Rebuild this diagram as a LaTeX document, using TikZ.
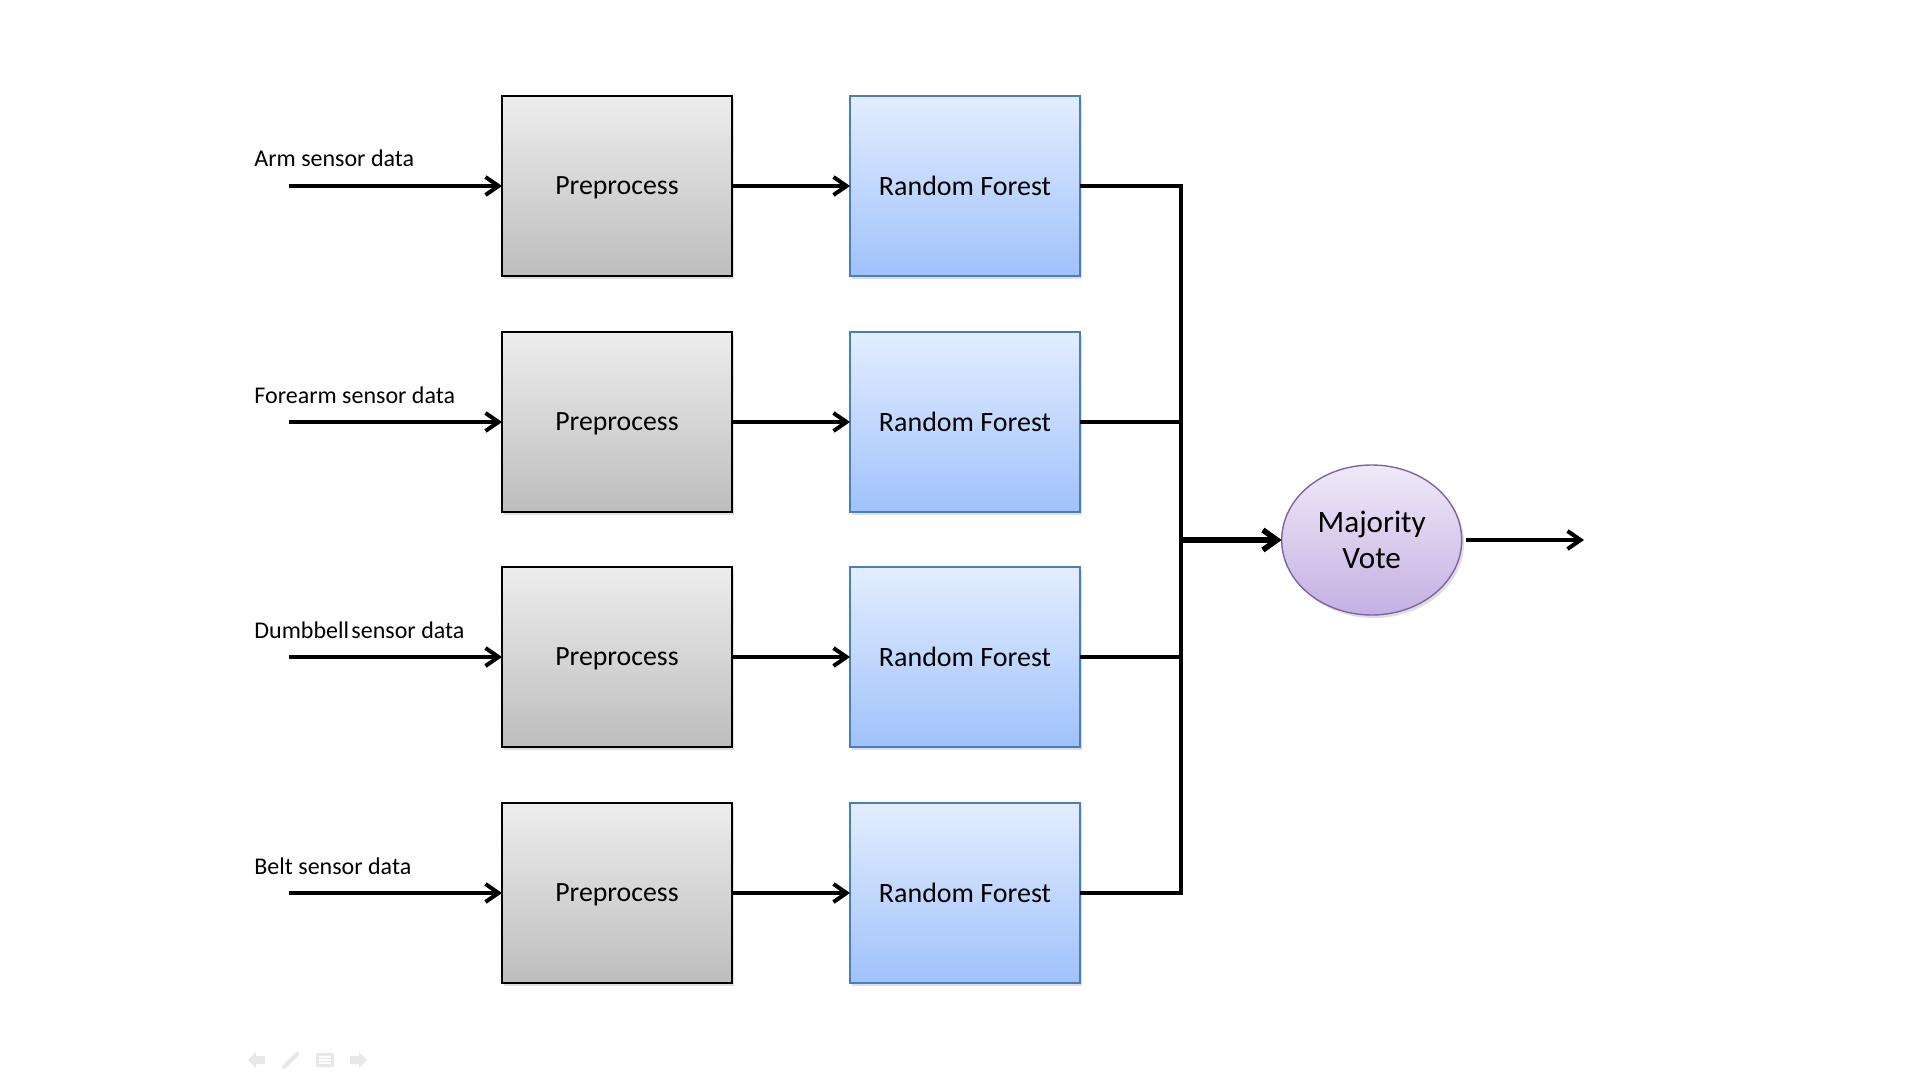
\documentclass[tikz,border=0pt]{standalone}
\usepackage{fontspec}
\setmainfont{Carlito}
\usetikzlibrary{arrows.meta,shadows,shapes.geometric}
\definecolor{ppTop}{HTML}{EDEDED}
\definecolor{ppBot}{HTML}{BDBDBD}
\definecolor{rfTop}{HTML}{E3EDFF}
\definecolor{rfBot}{HTML}{9FC2FB}
\definecolor{rfLine}{HTML}{4A7EBB}
\definecolor{mvTop}{HTML}{EFE9F8}
\definecolor{mvBot}{HTML}{C4B0E2}
\definecolor{mvLine}{HTML}{8064A2}
\definecolor{iconGray}{HTML}{E8E8E8}
\tikzset{
  ppbox/.style={draw=black, line width=1.25pt, top color=ppTop, bottom color=ppBot,
    minimum width=115pt, minimum height=90pt, inner sep=0pt, outer sep=0pt,
    text depth=0pt, font=\fontsize{13.9pt}{16pt}\selectfont,
    drop shadow={shadow xshift=1.2pt, shadow yshift=-1.5pt, opacity=0.25}},
  rfbox/.style={draw=rfLine, line width=0.9pt, top color=rfTop, bottom color=rfBot,
    minimum width=115pt, minimum height=90pt, inner sep=0pt, outer sep=0pt,
    font=\fontsize{14pt}{16pt}\selectfont,
    drop shadow={shadow xshift=1.2pt, shadow yshift=-1.5pt, opacity=0.25}},
  mvnode/.style={ellipse, draw=mvLine, line width=0.7pt, top color=mvTop, bottom color=mvBot,
    minimum width=90pt, minimum height=75pt, inner sep=0pt, outer sep=0pt, align=center,
    font=\fontsize{15.6pt}{18.8pt}\selectfont,
    drop shadow={shadow xshift=1.2pt, shadow yshift=-1.5pt, opacity=0.25}},
  sensorlabel/.style={anchor=base west, inner sep=0pt, font=\fontsize{12pt}{14pt}\selectfont},
  flow/.style={draw=black, line width=2pt, -{Straight Barb[length=6.5pt,width=9pt]}},
  bus/.style={draw=black, line width=1.9pt},
  thickflow/.style={draw=black, line width=2.8pt, -{Straight Barb[length=7pt,width=10pt]}},
}
\begin{document}
\begin{tikzpicture}[x=0.5pt,y=-0.5pt]
\useasboundingbox[fill=white] (0,0) rectangle (1920,1080);

% rows
\foreach \i/\y/\lab in {1/186/{Arm sensor data},2/422/{Forearm sensor data},3/657/{Dumbbell\hspace{0.1em}sensor data},4/893/{Belt sensor data}}{
  \node[ppbox] (pp\i) at (617,\y) {Preprocess};
  \node[rfbox] (rf\i) at (965,\y) {Random Forest};
  \node[sensorlabel] (lab\i) at (254,\y-19) {\lab};
  \coordinate (in\i) at (288.5,\y);
}

\foreach \i in {1,2,3,4}{
  \draw[flow] (in\i) -- (pp\i.west);
  \draw[flow] (pp\i.east) -- (rf\i.west);
}

% bus
\coordinate (bt) at (1181,186);
\coordinate (bb) at (1181,893);
\coordinate (bm) at (1181,540);
\draw[bus, line join=miter] (rf1.east) -- (bt) -- (bb) -- (rf4.east);
\draw[bus] (rf2.east) -- (rf2.east -| bt);
\draw[bus] (rf3.east) -- (rf3.east -| bt);

% majority vote
\node[mvnode] (mv) at (1371.7,540) {Majority\\[-0.5pt]Vote};
\draw[thickflow] (bm) -- (mv.west);
\coordinate (out) at (1584,540);
\draw[flow] ([xshift=2.2pt]mv.east) -- (out);

% faint slide-show controls
\fill[iconGray] (248,1060) -- (256,1052) -- (256,1056) -- (265,1056) -- (265,1064) -- (256,1064) -- (256,1068) -- cycle;
\draw[iconGray, line width=2pt, line cap=round] (284,1067) -- (297,1054);
\fill[iconGray, rounded corners=1pt] (316,1053) rectangle (334,1067);
\draw[white, line width=0.6pt] (319,1057) -- (331,1057) (319,1060) -- (331,1060) (319,1063) -- (331,1063);
\fill[iconGray] (367,1060) -- (359,1052) -- (359,1056) -- (350,1056) -- (350,1064) -- (359,1064) -- (359,1068) -- cycle;
\end{tikzpicture}
\end{document}
